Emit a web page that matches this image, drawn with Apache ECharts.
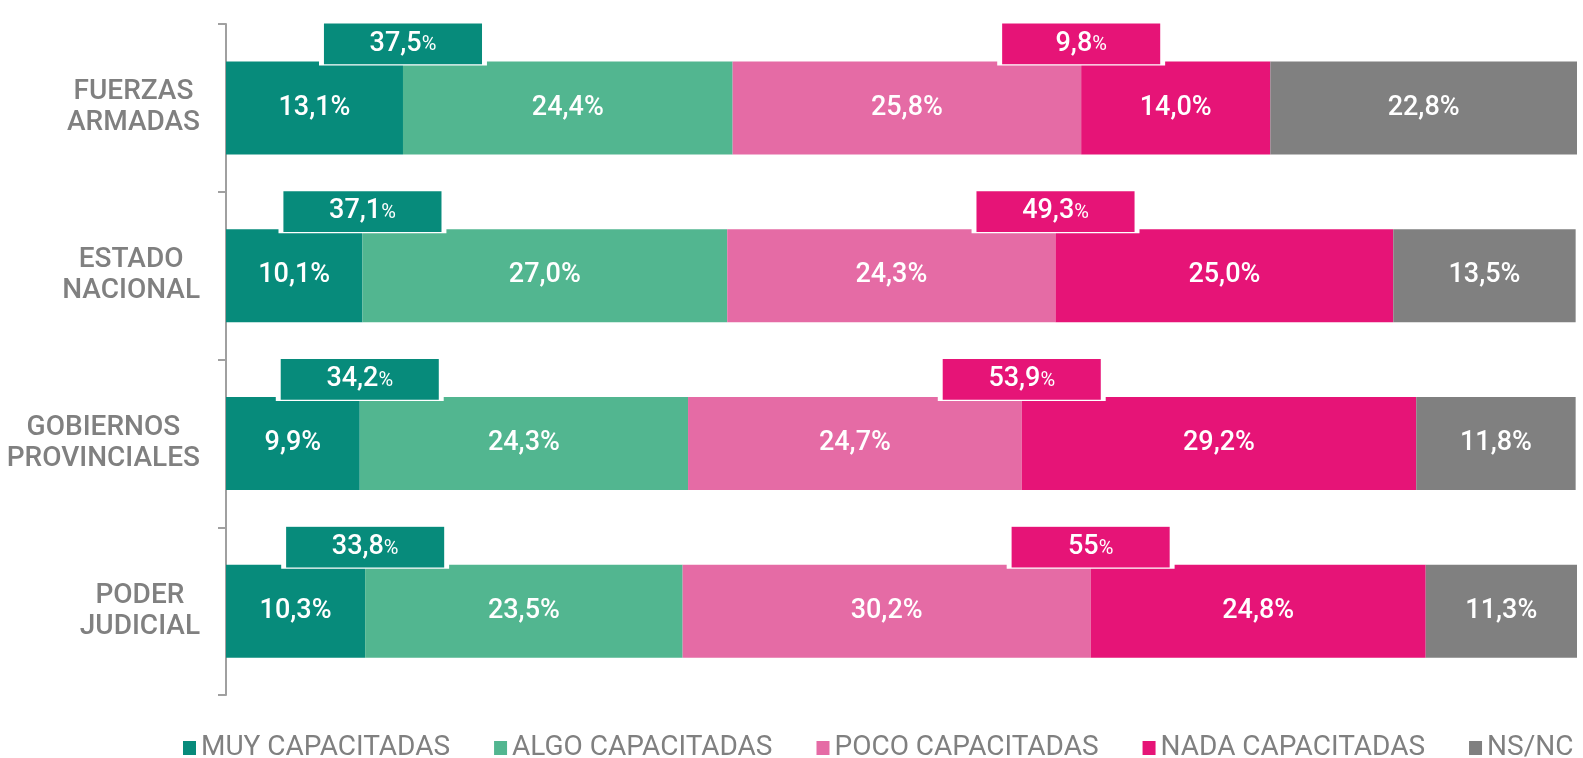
<!DOCTYPE html>
<html>
<head>
<meta charset="utf-8">
<script src="https://cdn.jsdelivr.net/npm/echarts@6/dist/echarts.min.js"></script>
<style>
html,body{margin:0;padding:0;background:#fff;}
#chart{width:1583px;height:758px;}
</style>
</head>
<body>
<div id="chart"></div>
<script>
const categories = ['FUERZAS\nARMADAS', 'ESTADO\nNACIONAL', 'GOBIERNOS\nPROVINCIALES', 'PODER\nJUDICIAL'];
const seriesNames = ['MUY CAPACITADAS', 'ALGO CAPACITADAS', 'POCO CAPACITADAS', 'NADA CAPACITADAS', 'NS/NC'];
const muy = [13.1, 10.1, 9.9, 10.3];
const algo = [24.4, 27.0, 24.3, 23.5];
const poco = [25.8, 24.3, 24.7, 30.2];
const nada = [14.0, 25.0, 29.2, 24.8];
const nsnc = [22.8, 13.5, 11.8, 11.3];
const totalCapacitadas = [37.5, 37.1, 34.2, 33.8];
const totalNoCapacitadas = [9.8, 49.3, 53.9, 55];

const colors = ['#078b7b', '#52b690', '#e56ba5', '#e61477', '#808080'];
const values = [muy, algo, poco, nada, nsnc];
const FONT = 'Roboto';

function fmt(v) { return v.toFixed(1).replace('.', ',') + '%'; }
function fmtTotal(v) { return String(v).replace('.', ','); }

const barSeries = seriesNames.map((name, i) => ({
  name: name,
  type: 'bar',
  stack: 'total',
  barWidth: 93,
  itemStyle: { color: colors[i] },
  label: {
    show: true,
    position: 'inside',
    color: '#fff',
    fontFamily: FONT,
    fontSize: 27,
    fontWeight: 500,
    formatter: p => fmt(p.value)
  },
  emphasis: { disabled: true },
  data: values[i]
}));

function boxSeries(xs, totals, color) {
  return {
    type: 'scatter',
    z: 10,
    symbol: 'rect',
    symbolSize: [163, 42],
    symbolOffset: [0, -64],
    itemStyle: { color: color, borderColor: '#fff', borderWidth: 2.5, opacity: 1 },
    label: {
      show: true,
      position: 'inside',
      formatter: p => '{n|' + fmtTotal(totals[p.dataIndex]) + '}{p|%}',
      rich: {
        n: { color: '#fff', fontFamily: FONT, fontSize: 27, fontWeight: 500 },
        p: { color: '#fff', fontFamily: FONT, fontSize: 20, padding: [3, 0, 0, 0] }
      }
    },
    emphasis: { disabled: true },
    silent: true,
    data: xs.map((x, i) => [x, i])
  };
}

const tealX = muy.slice();
const pinkX = muy.map((v, i) => v + algo[i] + poco[i]);

const option = {
  animation: false,
  textStyle: { fontFamily: FONT },
  grid: { left: 226, right: 6, top: 24, bottom: 63 },
  legend: {
    data: seriesNames,
    left: 178,
    top: 729,
    itemWidth: 13,
    itemHeight: 14,
    itemGap: 44,
    icon: 'rect',
    textStyle: { color: '#808080', fontSize: 28, fontFamily: FONT }
  },
  xAxis: { type: 'value', min: 0, max: 100, show: false },
  yAxis: {
    type: 'category',
    inverse: true,
    data: categories,
    axisLine: { show: true, lineStyle: { color: '#a0a0a0', width: 2 } },
    axisTick: { show: true, length: 8, lineStyle: { color: '#a0a0a0', width: 2 } },
    axisLabel: {
      margin: 26,
      formatter: v => v.split('\n').map(s => '{c|' + s + '}').join('\n'),
      rich: {
        c: { align: 'center', color: '#808080', fontFamily: FONT, fontSize: 28, lineHeight: 31, fontWeight: 500 }
      }
    }
  },
  series: barSeries.concat([
    boxSeries(tealX, totalCapacitadas, colors[0]),
    boxSeries(pinkX, totalNoCapacitadas, colors[3])
  ])
};

const chart = echarts.init(document.getElementById('chart'), null, { renderer: 'canvas' });
chart.setOption(option);
</script>
</body>
</html>
